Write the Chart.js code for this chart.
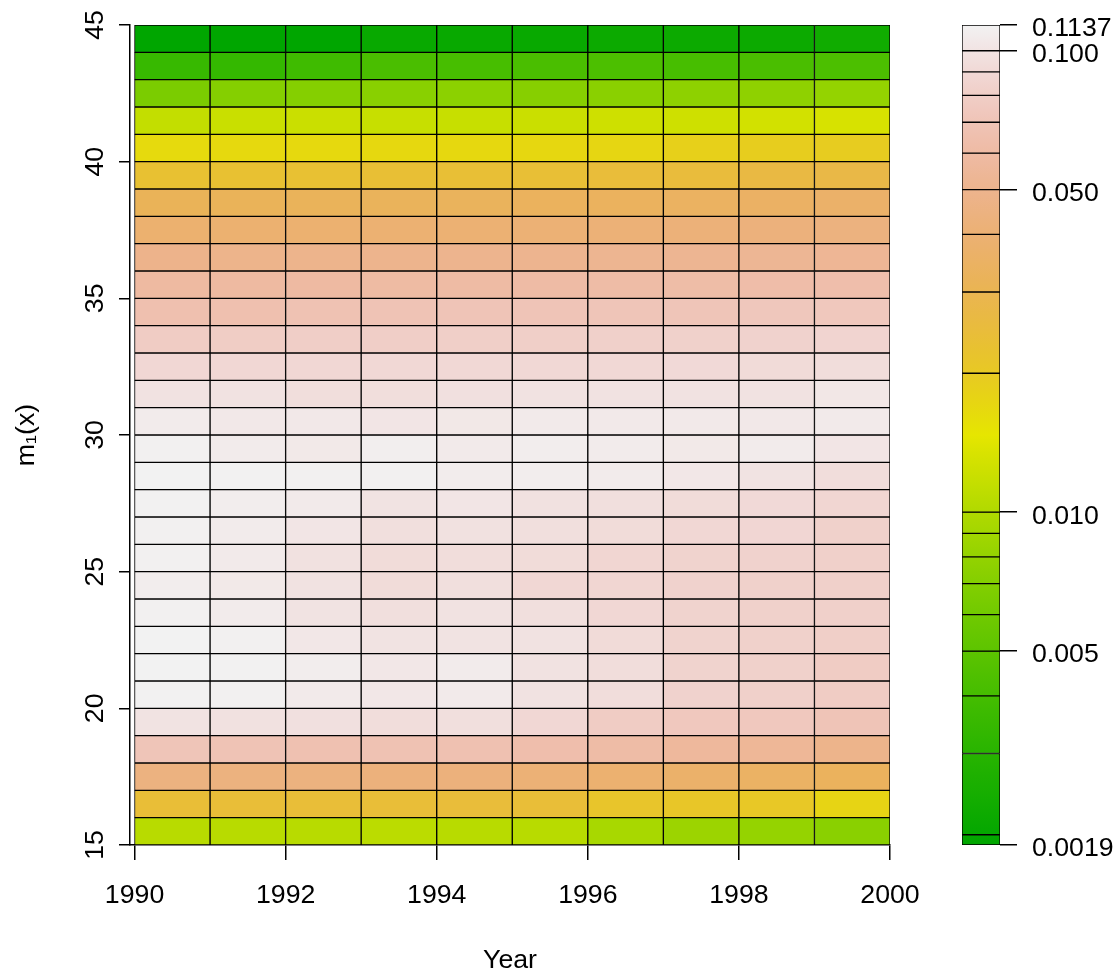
<!DOCTYPE html>
<html>
<head>
<meta charset="utf-8">
<script src="https://cdn.jsdelivr.net/npm/chart.js@4.4.1/dist/chart.umd.min.js"></script>
<style>
html, body { margin: 0; padding: 0; background: #ffffff; }
#wrap { position: relative; width: 1119px; height: 971px; }
#wrap canvas { position: absolute; left: 0; top: 0; }
</style>
</head>
<body>
<div id="wrap">
  <canvas id="heat" width="1119" height="971"></canvas>
  <canvas id="key" width="1119" height="971"></canvas>
</div>
<script>
// ---- data (rates by single year of age 15..44, one array per calendar year) ----
const years = [1990, 1991, 1992, 1993, 1994, 1995, 1996, 1997, 1998, 1999];
const ages = [15, 16, 17, 18, 19, 20, 21, 22, 23, 24, 25, 26, 27, 28, 29,
              30, 31, 32, 33, 34, 35, 36, 37, 38, 39, 40, 41, 42, 43, 44];

const y1990 = [0.0106,0.0239,0.0444,0.0710,0.1000,0.1130,0.1137,0.1137,0.1120,0.1090,0.1120,0.1120,0.1130,0.1137,0.1120,0.1070,0.0990,0.0890,0.0780,0.0660,0.0585,0.0487,0.0385,0.0318,0.0228,0.0165,0.0115,0.0065,0.0035,0.0019];
const y1991 = [0.0106,0.0240,0.0440,0.0690,0.0980,0.1120,0.1130,0.1120,0.1070,0.1050,0.1060,0.1070,0.1090,0.1130,0.1070,0.1045,0.0990,0.0890,0.0790,0.0660,0.0588,0.0490,0.0388,0.0320,0.0228,0.0167,0.0120,0.0071,0.0034,0.0019];
const y1992 = [0.0106,0.0240,0.0440,0.0670,0.0970,0.1060,0.1090,0.1036,0.1000,0.0990,0.0980,0.1020,0.1060,0.1120,0.1050,0.1045,0.0950,0.0890,0.0800,0.0680,0.0590,0.0492,0.0390,0.0322,0.0230,0.0167,0.0121,0.0071,0.0038,0.0019];
const y1993 = [0.0108,0.0240,0.0430,0.0680,0.0940,0.1036,0.1036,0.1000,0.0960,0.0930,0.0930,0.0960,0.1000,0.1120,0.1100,0.1018,0.0950,0.0900,0.0800,0.0690,0.0595,0.0497,0.0395,0.0325,0.0235,0.0168,0.0118,0.0073,0.0042,0.0021];
const y1994 = [0.0106,0.0245,0.0430,0.0670,0.0960,0.1060,0.1070,0.1000,0.0990,0.0960,0.0940,0.0980,0.1020,0.1080,0.1060,0.1040,0.0970,0.0900,0.0810,0.0700,0.0600,0.0500,0.0398,0.0327,0.0236,0.0168,0.0118,0.0075,0.0041,0.0021];
const y1995 = [0.0106,0.0240,0.0410,0.0640,0.0890,0.0993,0.0993,0.0990,0.0960,0.0890,0.0930,0.0960,0.0980,0.1090,0.1090,0.1063,0.0990,0.0900,0.0810,0.0700,0.0605,0.0505,0.0405,0.0330,0.0236,0.0170,0.0121,0.0072,0.0042,0.0021];
const y1996 = [0.0094,0.0215,0.0390,0.0610,0.0780,0.0940,0.0940,0.0920,0.0890,0.0875,0.0875,0.0930,0.0960,0.1070,0.1070,0.1054,0.0990,0.0900,0.0820,0.0710,0.0612,0.0512,0.0412,0.0335,0.0245,0.0172,0.0124,0.0074,0.0043,0.0022];
const y1997 = [0.0085,0.0210,0.0370,0.0560,0.0745,0.0840,0.0850,0.0850,0.0850,0.0840,0.0850,0.0890,0.0930,0.1036,0.1050,0.1054,0.0990,0.0910,0.0830,0.0710,0.0618,0.0518,0.0420,0.0343,0.0250,0.0185,0.0124,0.0076,0.0041,0.0022];
const y1998 = [0.0081,0.0205,0.0350,0.0540,0.0745,0.0820,0.0830,0.0830,0.0830,0.0830,0.0840,0.0880,0.0910,0.1000,0.1070,0.1045,0.0990,0.0920,0.0840,0.0730,0.0625,0.0525,0.0430,0.0352,0.0265,0.0192,0.0128,0.0077,0.0042,0.0022];
const y1999 = [0.0074,0.0176,0.0330,0.0490,0.0700,0.0780,0.0780,0.0810,0.0820,0.0820,0.0820,0.0830,0.0875,0.0940,0.1020,0.1063,0.1030,0.0940,0.0860,0.0740,0.0635,0.0532,0.0442,0.0365,0.0275,0.0195,0.0133,0.0080,0.0043,0.0023];

const xTicks = [1990, 1992, 1994, 1996, 1998, 2000];
const yTicks = [15, 20, 25, 30, 35, 40, 45];
const legendTicks  = [0.0019, 0.005, 0.01, 0.05, 0.1, 0.1137];
const legendLabels = ['0.0019', '0.005', '0.010', '0.050', '0.100', '0.1137'];
const legendBreaks = [0.0019, 0.002, 0.003, 0.004, 0.005, 0.006, 0.007, 0.008, 0.009,
                      0.01, 0.02, 0.03, 0.04, 0.05, 0.06, 0.07, 0.08, 0.09, 0.1, 0.1137];

// ---- colour scale (R terrain.colors, log-scaled) ----
const zMin = legendTicks[0];
const zMax = legendTicks[legendTicks.length - 1];

function hsv(h, s, v) {
  const i = Math.floor(h * 6);
  const f = h * 6 - i;
  const p = v * (1 - s), q = v * (1 - f * s), t = v * (1 - (1 - f) * s);
  let r, g, b;
  switch (((i % 6) + 6) % 6) {
    case 0: r = v; g = t; b = p; break;
    case 1: r = q; g = v; b = p; break;
    case 2: r = p; g = v; b = t; break;
    case 3: r = p; g = q; b = v; break;
    case 4: r = t; g = p; b = v; break;
    default: r = v; g = p; b = q;
  }
  return 'rgb(' + Math.round(r * 255) + ',' + Math.round(g * 255) + ',' + Math.round(b * 255) + ')';
}
function terrain(t) {
  t = Math.max(0, Math.min(1, t));
  if (t <= 0.5) {
    const s = t / 0.5;
    return hsv(4 / 12 - (2 / 12) * s, 1, 0.65 + 0.25 * s);
  }
  const s = (t - 0.5) / 0.5;
  return hsv((2 / 12) * (1 - s), 1 - s, 0.9 + 0.05 * s);
}
function colorFor(v) {
  return terrain((Math.log(v) - Math.log(zMin)) / (Math.log(zMax) - Math.log(zMin)));
}

const rates = [y1990, y1991, y1992, y1993, y1994, y1995, y1996, y1997, y1998, y1999];
const cells = [];
const cellColors = [];
years.forEach((yr, i) => {
  ages.forEach((a, j) => {
    cells.push({ x: yr + 0.5, y: [a, a + 1] });
    cellColors.push(colorFor(rates[i][j]));
  });
});

const FONT = '"Liberation Sans", Arial, Helvetica, sans-serif';
const FS = 26.7;
Chart.defaults.font.family = FONT;
Chart.defaults.font.size = FS;
Chart.defaults.color = '#000000';

// ---- heat map ----
new Chart(document.getElementById('heat'), {
  type: 'bar',
  data: {
    datasets: [{
      data: cells,
      backgroundColor: cellColors,
      borderColor: '#000000',
      borderWidth: 1,
      borderSkipped: false,
      barPercentage: 1,
      categoryPercentage: 1,
      grouped: false
    }]
  },
  options: {
    responsive: false,
    devicePixelRatio: 1,
    animation: false,
    layout: { padding: { left: 0, right: 229, top: 25, bottom: 0 } },
    plugins: { legend: { display: false }, tooltip: { enabled: false } },
    scales: {
      x: {
        type: 'linear',
        position: 'bottom',
        min: 1989.94,
        max: 2000,
        offset: false,
        afterBuildTicks: (s) => { s.ticks = xTicks.map(v => ({ value: v })); },
        afterFit: (s) => { s.height = 126; s.paddingLeft = 0; s.paddingRight = 0; },
        grid: { offset: false, drawOnChartArea: false, drawTicks: true, tickLength: 15, color: '#000000', lineWidth: 1.5 },
        border: { display: true, color: '#000000', width: 1.5 },
        ticks: { autoSkip: false, maxRotation: 0, minRotation: 0, padding: 20, color: '#000000',
                 font: { size: FS }, callback: (v) => String(v) },
        title: { display: true, text: 'Year', color: '#000000', padding: 0,
                 font: { size: FS, lineHeight: 0.8 } }
      },
      y: {
        type: 'linear',
        position: 'left',
        min: 15,
        max: 45,
        afterBuildTicks: (s) => { s.ticks = yTicks.map(v => ({ value: v })); },
        afterFit: (s) => { s.width = 130; s.paddingTop = 0; s.paddingBottom = 0; },
        grid: { drawOnChartArea: false, drawTicks: true, tickLength: 11, color: '#000000', lineWidth: 1.5 },
        border: { display: true, color: '#000000', width: 1.5 },
        ticks: { autoSkip: false, minRotation: 90, maxRotation: 90, crossAlign: 'center', padding: 9,
                 color: '#000000', font: { size: FS }, callback: (v) => String(v) },
        title: { display: true, text: 'm\u2081(x)', color: '#000000', padding: { top: 11, bottom: 0 },
                 font: { size: FS } }
      }
    }
  }
});

// ---- colour key ----
let keyGradient = null;
const segments = legendBreaks.slice(0, -1).map((b, i) => ({ x: 'key', y: [b, legendBreaks[i + 1]] }));
new Chart(document.getElementById('key'), {
  type: 'bar',
  data: {
    labels: ['key'],
    datasets: [{
      data: segments,
      backgroundColor: (c) => {
        const ch = c.chart;
        const ys = ch.scales && ch.scales.y;
        if (!ch.chartArea || !ys) return 'rgba(0,0,0,0)';
        if (!keyGradient) {
          const p0 = ys.getPixelForValue(zMin);
          const p1 = ys.getPixelForValue(zMax);
          keyGradient = ch.ctx.createLinearGradient(0, p0, 0, p1);
          for (let k = 0; k <= 48; k++) keyGradient.addColorStop(k / 48, terrain(k / 48));
        }
        return keyGradient;
      },
      borderColor: '#000000',
      borderWidth: 1,
      borderSkipped: false,
      barPercentage: 1,
      categoryPercentage: 1
    }]
  },
  options: {
    responsive: false,
    devicePixelRatio: 1,
    animation: false,
    layout: { padding: { left: 962, right: 0, top: 25, bottom: 126 } },
    plugins: { legend: { display: false }, tooltip: { enabled: false } },
    scales: {
      x: { type: 'category', display: false },
      y: {
        type: 'logarithmic',
        position: 'right',
        min: zMin,
        max: zMax,
        afterBuildTicks: (s) => { s.ticks = legendTicks.map(v => ({ value: v })); },
        afterFit: (s) => { s.width = 119; s.paddingTop = 0; s.paddingBottom = 0; },
        grid: { drawOnChartArea: false, drawTicks: true, tickLength: 17, color: '#000000', lineWidth: 1.5 },
        border: { display: false },
        ticks: { autoSkip: false, padding: 15, color: '#000000', crossAlign: 'near',
                 font: { size: FS, lineHeight: 0.3 },
                 callback: (v, i) => ['', legendLabels[i]] }
      }
    }
  }
});
</script>
</body>
</html>
